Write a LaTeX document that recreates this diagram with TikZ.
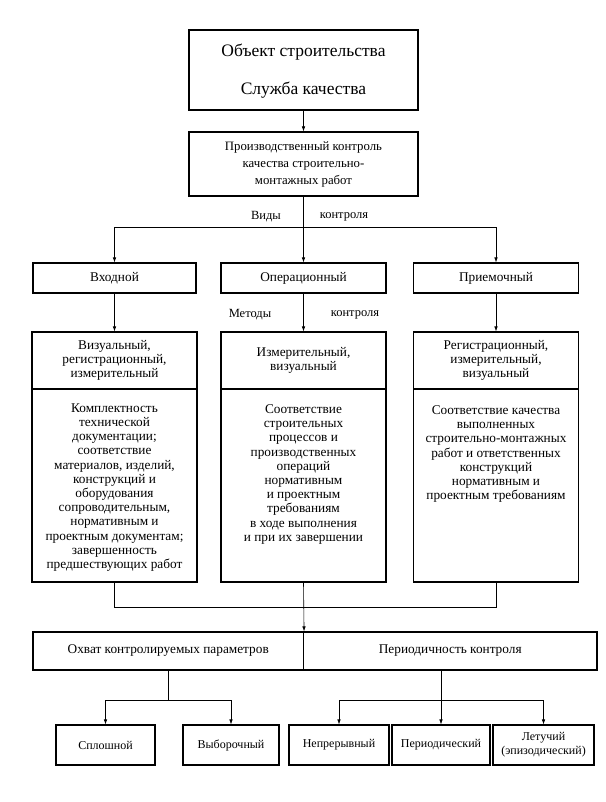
\documentclass[tikz,border=0pt]{standalone}
\usepackage{fontspec}
\setmainfont{Liberation Serif}
\usetikzlibrary{arrows.meta}
\begin{document}
\begin{tikzpicture}[x=1pt,y=-1pt,
  box/.style={draw, line width=1.1pt, inner sep=0pt, align=center},
  conn/.style={line width=0.6pt},
  arr/.style={conn, -{Latex[length=5pt,width=3.5pt]}},
  txt/.style={font=\fontsize{13.3}{14.2}\selectfont},
  big/.style={inner sep=0pt, font=\fontsize{17.5}{20}\selectfont},
  small/.style={font=\fontsize{12}{14}\selectfont},
  lbl/.style={inner sep=0pt, font=\fontsize{12.5}{14}\selectfont},
  colhead/.style={box, minimum width=165, minimum height=57, txt},
  colbody/.style={box, minimum width=165, minimum height=193},
  bodytext/.style={txt, anchor=north, align=center, inner sep=0pt}]
\useasboundingbox (0,0) rectangle (605,802);

% top
\node[box, minimum width=229, minimum height=80] (obj) at (303.5,70) {};
\node[big] (obj1) at (303.5,52) {Объект строительства};
\node[big] (obj2) at (303.5,90) {Служба качества};
\node[box, minimum width=229, minimum height=64, font=\fontsize{12.8}{17}\selectfont] (pk) at (303.5,164) {Производственный контроль\\качества строительно-\\монтажных работ};

% kinds of control
\coordinate (vtop) at (303.5,227);
\node[lbl] (vidy) at (266,217) {Виды};
\node[lbl] (kontr1) at (344,217) {контроля};
\node[box, minimum width=163, minimum height=30, txt] (vh) at (114.5,278) {Входной};
\node[box, minimum width=165, minimum height=30, txt] (op) at (303.5,278) {Операционный};
\node[box, minimum width=165, minimum height=30, txt] (pr) at (496,278) {Приемочный};
\draw[arr] (obj.south) -- (pk.north);
\draw[arr] (pk.south) -- (op.north);
\draw[arr] (vtop) -| (vh.north);
\draw[arr] (vtop) -| (pr.north);

% methods
\node[lbl] (met) at (250,315) {Методы};
\node[lbl] (kontr2) at (355,315) {контроля};

\node[colhead] (vhm) at (114.5,360.5) {Визуальный,\\регистрационный,\\измерительный};
\node[colhead] (opm) at (303.5,360.5) {Измерительный,\\визуальный};
\node[colhead] (prm) at (496,360.5) {Регистрационный,\\измерительный,\\визуальный};
\draw[arr] (vh.south) -- (vhm.north);
\draw[arr] (op.south) -- (opm.north);
\draw[arr] (pr.south) -- (prm.north);

\node[colbody] (vhb) at (114.5,485.5) {};
\node[colbody] (opb) at (303.5,485.5) {};
\node[colbody] (prb) at (496,485.5) {};
\node[bodytext] (vht) at ([yshift=-15pt]vhb.north) {Комплектность\\технической\\документации;\\соответствие\\материалов, изделий,\\конструкций и\\оборудования\\сопроводительным,\\нормативным и\\проектным документам;\\завершенность\\предшествующих работ};
\node[bodytext] (opt) at ([yshift=-16pt]opb.north) {Соответствие\\строительных\\процессов и\\производственных\\операций\\нормативным\\и проектным\\требованиям\\в ходе выполнения\\и при их завершении};
\node[bodytext] (prt) at ([yshift=-17pt]prb.north) {Соответствие качества\\выполненных\\строительно-монтажных\\работ и ответственных\\конструкций\\нормативным и\\проектным требованиям};

% lower
\node[box, minimum width=270.5, minimum height=38, txt] (cover) at (168.25,651) {Охват контролируемых параметров};
\node[box, minimum width=293.5, minimum height=38, txt] (per) at (450.25,651) {Периодичность контроля};
\coordinate (jn) at (303.5,607);
\draw[conn] (vhb.south) |- (jn);
\draw[conn] (prb.south) |- (jn);
\draw[arr] (opb.south) -- (cover.north east);

\node[box, minimum width=99, minimum height=40, small] (spl) at (105.5,745) {Сплошной};
\node[box, minimum width=96, minimum height=40, small] (vyb) at (231,745) {Выборочный};
\node[box, minimum width=100, minimum height=40, small] (nep) at (339,745) {Непрерывный};
\node[box, minimum width=98, minimum height=40, small] (prd) at (441,745) {Периодический};
\node[box, minimum width=101, minimum height=40, small] (let) at (543.5,745) {Летучий\\(эпизодический)};

\coordinate (ov) at (168.25,700);
\draw[conn] (cover.south) -- (ov);
\draw[arr] (ov) -| (spl.north);
\draw[arr] (ov) -| (vyb.north);
\coordinate (pv) at (441,700);
\draw[arr] (prd.north |- per.south) -- (prd.north);
\draw[arr] (pv) -| (nep.north);
\draw[arr] (pv) -| (let.north);
\end{tikzpicture}
\end{document}
